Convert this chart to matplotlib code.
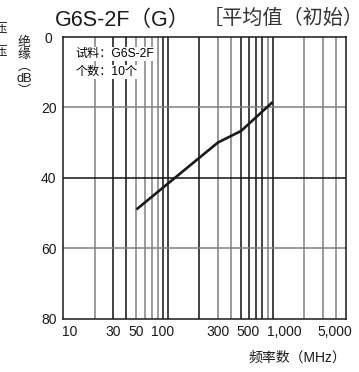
import matplotlib
matplotlib.use('Agg')
import matplotlib.pyplot as plt
import matplotlib.transforms as mtransforms

plt.rcParams['font.family'] = ['Liberation Sans', 'Noto Sans CJK SC', 'DejaVu Sans']
plt.rcParams['axes.unicode_minus'] = False

# 数据
freq_mhz = [50, 300, 500, 1000]
isolation_db = [49, 30, 26.7, 18.5]

xtick_vals = [10, 30, 50, 100, 300, 500, 1000, 5000]
xtick_labels = ['10', '30', '50', '100', '300', '500', '1,000', '5,000']
ytick_vals = [0, 20, 40, 60, 80]

# 网格线 (扫描图里有灰有黑)
vgrid = [20, 30, 40, 50, 60, 70, 80, 90, 100, 200, 300, 400, 500, 600, 700,
         800, 900, 1000, 2000, 3000, 4000]
vgrid_gray = [True, False, False, True, True, True, True, False, False, False,
              True, True, False, False, False, False, True, False, True, True, True]
hgrid = [20, 40, 60]
hgrid_gray = [True, False, True]

fig = plt.figure(figsize=(3.59, 3.72), dpi=100)
ax = fig.add_axes([0.1763, 0.1438, 0.7867, 0.7567])

ax.set_xscale('log')
ax.set_xlim(10, 5000)
ax.set_ylim(80, 0)

for v, g in zip(vgrid, vgrid_gray):
    ax.axvline(v, color='#808080' if g else '#111111', lw=1.1, zorder=1)
for v, g in zip(hgrid, hgrid_gray):
    ax.axhline(v, color='#808080' if g else '#111111', lw=1.1, zorder=1)

ax.plot(freq_mhz, isolation_db, color='#1a1a1a', lw=1.9, zorder=3,
        solid_capstyle='butt')

ax.set_xticks(xtick_vals)
ax.set_xticklabels(xtick_labels)
ax.xaxis.set_minor_locator(matplotlib.ticker.NullLocator())
ax.set_yticks(ytick_vals)
ax.tick_params(length=0, labelsize=10, colors='#1a1a1a')
ax.tick_params(axis='x', pad=5)
ax.tick_params(axis='y', pad=10.5)
for lab in ax.get_yticklabels():
    lab.set_horizontalalignment('center')

# 手动微调部分刻度标签位置
shifts = {'10': ('left', -1), '100': ('center', -4), '500': ('center', 5),
          '1,000': ('left', -4), '5,000': ('right', 5)}
for lab in ax.get_xticklabels():
    t = lab.get_text()
    if t in shifts:
        ha, dx = shifts[t]
        lab.set_horizontalalignment(ha)
        lab.set_transform(lab.get_transform() +
                          mtransforms.ScaledTranslation(dx / 72, 0, fig.dpi_scale_trans))

for s in ax.spines.values():
    s.set_linewidth(1.1)
    s.set_color('#1a1a1a')

ax.text(0.042, 0.94, '试料：G6S-2F', transform=ax.transAxes, fontsize=8.7,
        va='center', ha='left', zorder=4,
        bbox=dict(facecolor='white', edgecolor='none', pad=0.5))
ax.text(0.042, 0.875, '个数：10个', transform=ax.transAxes, fontsize=8.7,
        va='center', ha='left', zorder=4,
        bbox=dict(facecolor='white', edgecolor='none', pad=0.5))

fig.text(55 / 359, 1 - 20 / 372, 'G6S-2F（G）', fontsize=15.5, ha='left',
         va='center', color='#1a1a1a')
fig.text(203 / 359, 1 - 18 / 372, '［平均值（初始）', fontsize=14.5, ha='left',
         va='center', color='#333333')

fig.text(24 / 359, 1 - 67 / 372, '绝\n缘\n︵\ndB\n︶', fontsize=9.3, ha='center',
         va='center', linespacing=1.0, color='#1a1a1a')
fig.text(-5 / 359, 1 - 40 / 372, '压\n\n压', fontsize=9, ha='left', va='center',
         linespacing=0.9, color='#1a1a1a')

fig.text(297 / 359, 1 - 358 / 372, '频率数（MHz）', fontsize=10, ha='center',
         va='center', color='#1a1a1a')

fig.savefig('out.png', dpi=100)
